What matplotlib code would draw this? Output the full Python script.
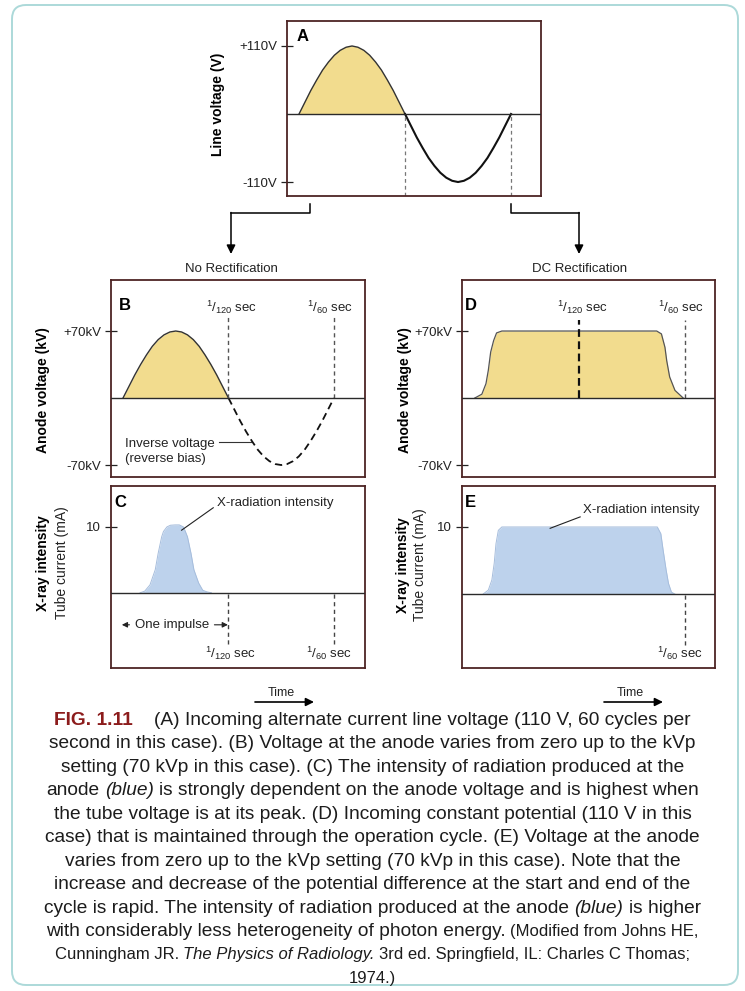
import matplotlib
matplotlib.use("Agg")
import matplotlib.pyplot as plt
from matplotlib import font_manager
from matplotlib.patches import FancyBboxPatch

# ---- values ----
# phase of the supply cycle in degrees (180 = 1/120 sec, 360 = 1/60 sec)
phase_deg = [0, 10, 20, 30, 40, 50, 60, 70, 80, 90, 100, 110, 120, 130, 140, 150, 160, 170, 180,
             190, 200, 210, 220, 230, 240, 250, 260, 270, 280, 290, 300, 310, 320, 330, 340, 350, 360]
# A: line voltage (V)
line_voltage = [0, 19, 38, 55, 71, 84, 95, 103, 108, 110, 108, 103, 95, 84, 71, 55, 38, 19, 0,
                -19, -38, -55, -71, -84, -95, -103, -108, -110, -108, -103, -95, -84, -71, -55, -38, -19, 0]
# B: anode voltage without rectification (kV)
anode_kv = [0, 12, 24, 35, 45, 54, 61, 66, 69, 70, 69, 66, 61, 54, 45, 35, 24, 12, 0,
            -12, -24, -35, -45, -54, -61, -66, -69, -70, -69, -66, -61, -54, -45, -35, -24, -12, 0]
# C: tube current pulse (mA)
pulse_phase = [29, 37, 46, 55, 60, 66, 69, 75, 81, 89, 96, 103, 106, 110, 116, 121, 129, 136, 143, 151]
pulse_ma = [0, 0.25, 1.2, 3.5, 6, 8.5, 9.3, 10, 10.25, 10.3, 10.3, 10, 9.4, 8.5, 6, 3.5, 1.5, 0.4, 0.15, 0]
# D: anode voltage with DC rectification (kV)
dc_phase = [3, 15, 22, 26, 30, 35, 40, 49, 312, 320, 326, 329, 334, 343, 357]
dc_kv = [0, 4, 15, 29, 48, 60, 68, 70, 70, 67, 53, 39, 22, 8, 0]
# E: tube current with DC rectification (mA)
dc_ma_phase = [17, 26, 32, 36, 39, 43, 49, 313, 319, 323, 328, 332, 337, 343]
dc_ma = [0, 0.6, 2.1, 4.6, 7.5, 9.5, 10, 10, 9, 6.5, 3.6, 1.6, 0.3, 0]

mark_phase = [180, 360]
mark_labels = [r"$^{1}/_{120}$ sec", r"$^{1}/_{60}$ sec"]

caption_lines = [
    [("FIG. 1.11", "fig", 0), ("(A) Incoming alternate current line voltage (110 V, 60 cycles per", "n", 4)],
    [("second in this case). (B) Voltage at the anode varies from zero up to the kVp", "n", 0)],
    [("setting (70 kVp in this case). (C) The intensity of radiation produced at the", "n", 0)],
    [("anode", "n", 0), ("(blue)", "i", 1), ("is strongly dependent on the anode voltage and is highest when", "n", 1)],
    [("the tube voltage is at its peak. (D) Incoming constant potential (110 V in this", "n", 0)],
    [("case) that is maintained through the operation cycle. (E) Voltage at the anode", "n", 0)],
    [("varies from zero up to the kVp setting (70 kVp in this case). Note that the", "n", 0)],
    [("increase and decrease of the potential difference at the start and end of the", "n", 0)],
    [("cycle is rapid. The intensity of radiation produced at the anode", "n", 0), ("(blue)", "i", 1),
     ("is higher", "n", 1)],
    [("with considerably less heterogeneity of photon energy.", "n", 0), ("(Modified from Johns HE,", "s", 1)],
    [("Cunningham JR.", "s", 0), ("The Physics of Radiology.", "si", 1),
     ("3rd ed. Springfield, IL: Charles C Thomas;", "s", 1)],
    [("1974.)", "s", 0)],
]

W, H = 745, 991
YELLOW = "#f2dc8e"
BLUE = "#bdd2ec"
SPINE = "#4d2424"


def has_font(name):
    try:
        font_manager.findfont(name, fallback_to_default=False)
        return True
    except ValueError:
        return False


SANS = "Liberation Sans"
NARROW = "Liberation Sans Narrow" if has_font("Liberation Sans Narrow") else SANS

plt.rcParams["font.family"] = [SANS, "DejaVu Sans"]
plt.rcParams["mathtext.default"] = "regular"

fig = plt.figure(figsize=(W / 100, H / 100), dpi=100)


def px_axes(left, top, right, bottom):
    return fig.add_axes([left / W, 1 - bottom / H, (right - left) / W, (bottom - top) / H])


def style_panel(ax, xlim, ylim, yticks, yticklabels, letter, lx, ly):
    ax.set_xlim(xlim)
    ax.set_ylim(ylim)
    ax.set_xticks([])
    ax.set_yticks(yticks)
    ax.set_yticklabels(yticklabels)
    ax.tick_params(axis="y", direction="inout", length=8, width=0.9, pad=3,
                   labelsize=9.5, colors="#222222")
    for s in ax.spines.values():
        s.set_color(SPINE)
        s.set_linewidth(1.3)
    ax.axhline(0, color="#2a2a2a", lw=1.0, zorder=3)
    ax.text(lx, ly, letter, transform=ax.transAxes, fontweight="bold",
            fontsize=12, ha="center", va="center")


# overlay in pixel units for border, connectors and caption
ov = fig.add_axes([0, 0, 1, 1], zorder=-1)
ov.set_xlim(0, W)
ov.set_ylim(H, 0)
ov.axis("off")
ov.add_patch(FancyBboxPatch((12, 5), 726, 980, boxstyle="round,pad=0,rounding_size=14",
                            ec="#acd9d9", fc="none", lw=1.4, clip_on=False))

# ---- A ----
axA = px_axes(287, 21, 541, 196)
style_panel(axA, (-20.4, 410.9), (-132.6, 150.4), [110, -110], ["+110V", "-110V"], "A", 0.063, 0.909)
axA.fill_between(phase_deg, line_voltage, 0, where=[v >= 0 for v in line_voltage], color=YELLOW, lw=0)
axA.plot(phase_deg[:19], line_voltage[:19], color="#333333", lw=1.0)
axA.plot(phase_deg[18:], line_voltage[18:], color="#111111", lw=1.5)
axA.vlines(mark_phase, -132.6, 0, colors="#777777", linestyles=(0, (3, 2.5)), lw=0.9)
fig.text(218 / W, 1 - 104 / H, "Line voltage (V)", rotation=90, fontweight="bold",
         fontsize=10, ha="center", va="center")

# connectors
ov.plot([310, 310, 231], [204, 213, 213], color="black", lw=1.1)
ov.annotate("", xy=(231, 254), xytext=(231, 212.5),
            arrowprops=dict(arrowstyle="-|>", lw=1.1, color="black", mutation_scale=13, shrinkA=0, shrinkB=0))
ov.plot([511, 511, 579], [204, 213, 213], color="black", lw=1.1)
ov.annotate("", xy=(579, 254), xytext=(579, 212.5),
            arrowprops=dict(arrowstyle="-|>", lw=1.1, color="black", mutation_scale=13, shrinkA=0, shrinkB=0))
ov.text(231, 269, "No Rectification", fontsize=9.5, ha="center", va="center", color="#222222")
ov.text(580, 269, "DC Rectification", fontsize=9.5, ha="center", va="center", color="#222222")

# ---- B ----
axB = px_axes(111, 280, 365, 477)
style_panel(axB, (-20.5, 413), (-82.5, 123.3), [70, -70], ["+70kV", "-70kV"], "B", 0.055, 0.873)
axB.fill_between(phase_deg[:19], anode_kv[:19], 0, color=YELLOW, lw=0)
axB.plot(phase_deg[:19], anode_kv[:19], color="#333333", lw=1.0)
axB.plot(phase_deg[18:], anode_kv[18:], color="#111111", lw=1.3, dashes=(4, 2.5))
axB.vlines(mark_phase, 0, 87, colors="#555555", linestyles=(0, (3, 2.5)), lw=1.0)
for p, lab in zip([185, 353], mark_labels):
    axB.text(p, 95, lab, fontsize=9.5, ha="center", va="center", color="#222222")
axB.text(3.4, -55.5, "Inverse voltage\n(reverse bias)", fontsize=9.5, ha="left", va="center",
         color="#222222", linespacing=1.3)
axB.plot([164, 219], [-46, -46], color="#333333", lw=0.8)
fig.text(43 / W, 1 - 390 / H, "Anode voltage (kV)", rotation=90, fontweight="bold",
         fontsize=10, ha="center", va="center")

# ---- C ----
axC = px_axes(111, 486, 365, 668)
style_panel(axC, (-20.5, 413), (-11.4, 16.2), [10], ["10"], "C", 0.035, 0.907)
axC.fill_between(pulse_phase, pulse_ma, 0, color=BLUE, lw=0)
axC.plot(pulse_phase, pulse_ma, color="#a6bddc", lw=0.7)
axC.vlines(mark_phase, -7.8, 0, colors="#444444", linestyles=(0, (3, 2.5)), lw=1.0)
for p, lab in zip([183, 351], mark_labels):
    axC.text(p, -9.2, lab, fontsize=9.5, ha="center", va="center", color="#222222")
axC.text(84, -4.85, "One impulse", fontsize=9.5, ha="center", va="center", color="#222222")
for a, b in [(11, -2), (156, 179)]:
    axC.annotate("", xy=(b, -4.85), xytext=(a, -4.85),
                 arrowprops=dict(arrowstyle="-|>", lw=0.8, color="#222222", mutation_scale=8,
                                 shrinkA=0, shrinkB=0))
axC.text(160, 13.6, "X-radiation intensity", fontsize=9.5, ha="left", va="center", color="#222222")
axC.plot([154, 100], [12.9, 9.5], color="#222222", lw=0.8)
fig.text(43 / W, 1 - 563 / H, "X-ray intensity", rotation=90, fontweight="bold",
         fontsize=10, ha="center", va="center")
fig.text(62 / W, 1 - 563 / H, "Tube current (mA)", rotation=90,
         fontsize=10, ha="center", va="center", color="#222222")

# ---- D ----
axD = px_axes(462, 280, 715, 477)
style_panel(axD, (-18.7, 411), (-82.5, 123.3), [70, -70], ["+70kV", "-70kV"], "D", 0.036, 0.873)
axD.fill_between(dc_phase, dc_kv, 0, color=YELLOW, lw=0)
axD.plot(dc_phase, dc_kv, color="#555555", lw=0.9)
axD.vlines([mark_phase[0]], 0, 82, colors="#111111", linestyles=(0, (3.5, 2)), lw=1.6, zorder=4)
axD.vlines([mark_phase[1]], 0, 82, colors="#555555", linestyles=(0, (3, 2.5)), lw=1.0)
for p, lab in zip([186, 353], mark_labels):
    axD.text(p, 95, lab, fontsize=9.5, ha="center", va="center", color="#222222")
fig.text(405 / W, 1 - 390 / H, "Anode voltage (kV)", rotation=90, fontweight="bold",
         fontsize=10, ha="center", va="center")

# ---- E ----
axE = px_axes(462, 486, 715, 668)
style_panel(axE, (-18.7, 411), (-11.0, 16.1), [10], ["10"], "E", 0.032, 0.907)
axE.fill_between(dc_ma_phase, dc_ma, 0, color=BLUE, lw=0)
axE.plot(dc_ma_phase, dc_ma, color="#a6bddc", lw=0.7)
axE.vlines([mark_phase[1]], -7.6, 0, colors="#444444", linestyles=(0, (3, 2.5)), lw=1.0)
axE.text(351, -8.8, mark_labels[1], fontsize=9.5, ha="center", va="center", color="#222222")
axE.text(187, 12.5, "X-radiation intensity", fontsize=9.5, ha="left", va="center", color="#222222")
axE.plot([182, 131], [11.5, 9.8], color="#222222", lw=0.8)
fig.text(403 / W, 1 - 565 / H, "X-ray intensity", rotation=90, fontweight="bold",
         fontsize=10, ha="center", va="center")
fig.text(420 / W, 1 - 565 / H, "Tube current (mA)", rotation=90,
         fontsize=10, ha="center", va="center", color="#222222")

# time arrows
for cx in [281, 630]:
    ov.text(cx, 693, "Time", fontsize=9, ha="center", va="center", color="#222222")
    ov.annotate("", xy=(cx + 33, 702), xytext=(cx - 26, 702),
                arrowprops=dict(arrowstyle="-|>", lw=1.2, color="black", mutation_scale=12,
                                shrinkA=0, shrinkB=0))

# ---- caption ----
renderer = fig.canvas.get_renderer()


def text_width(s, **kw):
    t = ov.text(0, 0, s, **kw)
    w = t.get_window_extent(renderer).width
    t.remove()
    return w


base = 14.0
w2 = text_width(caption_lines[1][0][0], fontfamily=NARROW, fontsize=base)
cap_size = base * 651 / w2

styles = {
    "n": dict(fontfamily=NARROW, fontsize=cap_size, color="#1c1c1c"),
    "i": dict(fontfamily=NARROW, fontsize=cap_size, color="#1c1c1c", fontstyle="italic"),
    "fig": dict(fontfamily=NARROW, fontsize=cap_size, color="#8c1c1c", fontweight="bold"),
    "s": dict(fontfamily=NARROW, fontsize=cap_size * 0.87, color="#1c1c1c"),
    "si": dict(fontfamily=NARROW, fontsize=cap_size * 0.87, color="#1c1c1c", fontstyle="italic"),
}
space_w = {k: text_width("a a", **v) - text_width("aa", **v) for k, v in styles.items()}

for i, line in enumerate(caption_lines):
    baseline = 725 + i * 23.45
    parts = []
    total = 0
    for seg, st, lead in line:
        gap = lead * space_w[st]
        w = text_width(seg, **styles[st])
        parts.append((seg, st, gap))
        total += gap + w
    x = 372.5 - total / 2
    for seg, st, gap in parts:
        x += gap
        t = ov.text(x, baseline, seg, ha="left", va="baseline", **styles[st])
        x += t.get_window_extent(renderer).width

fig.savefig("out.png", dpi=100)
